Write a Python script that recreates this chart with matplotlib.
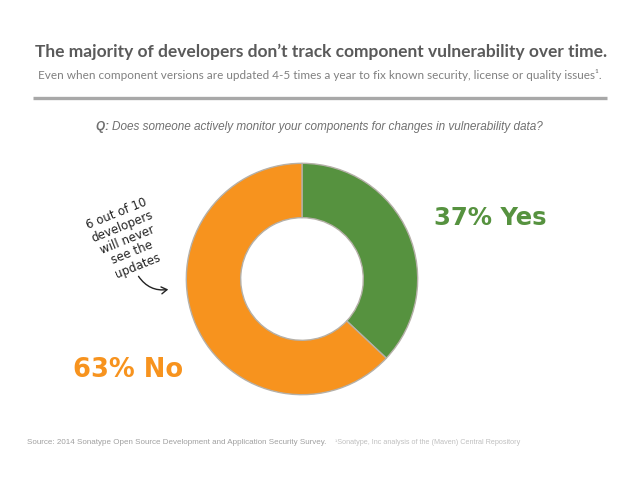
import matplotlib
matplotlib.use("Agg")
import matplotlib.pyplot as plt
from matplotlib.patches import FancyArrowPatch
from matplotlib.lines import Line2D

labels = ["Yes", "No"]
values = [37, 63]
colors = ["#56923F", "#F7931E"]

title = "The majority of developers don\u2019t track component vulnerability over time."
subtitle = "Even when component versions are updated 4-5 times a year to fix known security, license or quality issues\u00b9."
question_q = "Q:"
question = "Does someone actively monitor your components for changes in vulnerability data?"
note = "6 out of 10\ndevelopers\nwill never\nsee the\nupdates"
source1 = "Source: 2014 Sonatype Open Source Development and Application Security Survey."
source2 = "\u00b9Sonatype, Inc analysis of the (Maven) Central Repository"

W, H = 638, 479
fig = plt.figure(figsize=(W / 100, H / 100), dpi=100)
fig.patch.set_facecolor("white")

cx, cy, r = 302, 279, 118
ax = fig.add_axes([(cx - r) / W, (H - cy - r) / H, 2 * r / W, 2 * r / H])
ax.pie(values, colors=colors, startangle=90, counterclock=False, radius=1,
       wedgeprops=dict(width=0.47, edgecolor="#B5B0A8", linewidth=1.0))
ax.set_xlim(-1.02, 1.02)
ax.set_ylim(-1.02, 1.02)
ax.set_aspect("equal")
ax.axis("off")


def fx(x):
    return x / W


def fy(y):
    return 1 - y / H


fig.text(fx(321), fy(52), title, ha="center", va="center", fontsize=12.5,
         fontweight="bold", color="#5A5A5A", family="Lato")
fig.text(fx(320), fy(75), subtitle, ha="center", va="center", fontsize=8.5,
         color="#808080", family="Lato")

fig.add_artist(Line2D([fx(33), fx(607)], [fy(98), fy(98)], transform=fig.transFigure,
                      color="#A8A8A8", lw=2.4, solid_capstyle="butt"))

# question line, centered
qs = 8.5
t1 = fig.text(0, fy(127), question_q + " ", ha="left", va="center", fontsize=qs,
              fontweight="bold", style="italic", color="#707070", family="Liberation Sans")
t2 = fig.text(0, fy(127), question, ha="left", va="center", fontsize=qs,
              style="italic", color="#707070", family="Liberation Sans")
fig.canvas.draw()
rend = fig.canvas.get_renderer()
w1 = t1.get_window_extent(rend).width
w2 = t2.get_window_extent(rend).width
x0 = 319 - (w1 + w2) / 2
t1.set_x(x0 / W)
t2.set_x((x0 + w1) / W)

fig.text(fx(490), fy(218), f"{values[0]}% {labels[0]}", ha="center", va="center",
         fontsize=17.5, fontweight="bold", color=colors[0], family="DejaVu Sans")
fig.text(fx(128), fy(370), f"{values[1]}% {labels[1]}", ha="center", va="center",
         fontsize=18.5, fontweight="bold", color=colors[1], family="DejaVu Sans")

fig.text(fx(127), fy(240), note, ha="center", va="center", fontsize=8.5,
         rotation=22, color="#222222", family="DejaVu Sans", linespacing=1.1,
         rotation_mode="anchor")

arrow = FancyArrowPatch((fx(137), fy(274)), (fx(171), fy(289)),
                        transform=fig.transFigure, connectionstyle="arc3,rad=0.35",
                        arrowstyle="->,head_length=4,head_width=2.5", color="#222222",
                        lw=1.0)
fig.patches.append(arrow)

fig.text(fx(27), fy(443), source1, ha="left", va="center", fontsize=5.8,
         color="#A0A0A0", family="Liberation Sans")
fig.text(fx(335), fy(443), source2, ha="left", va="center", fontsize=5.2,
         color="#C0C0C0", family="Liberation Sans")

fig.savefig("out.png", dpi=100, facecolor="white")
